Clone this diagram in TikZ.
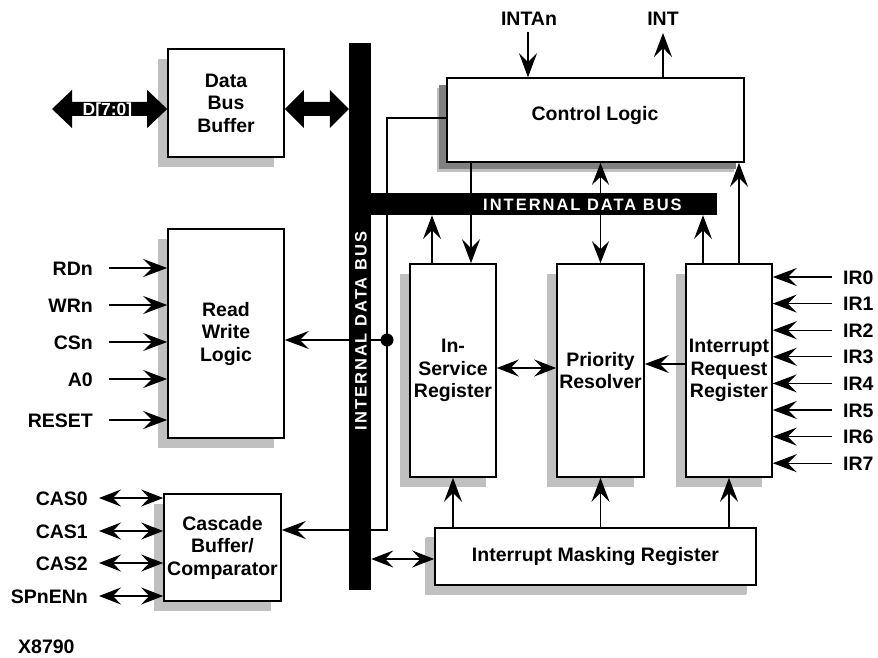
\documentclass[tikz,border=0pt]{standalone}
\usepackage{fontspec}
\setmainfont{Liberation Sans}
\newfontfamily\busfont[LetterSpace=12]{Liberation Sans}
\usetikzlibrary{arrows.meta,shadows,calc}
\definecolor{shlight}{HTML}{C0C0C0}
\definecolor{shdark}{HTML}{808080}
\newcommand\fatarr[3]{% from, to, head length
  \fill let \p1=(#1), \p2=(#2) in (\p1) -- (\x1+#3,\y1+19pt) -- (\x1+#3,\y1+7pt) -- (\x2-#3,\y1+7pt) -- (\x2-#3,\y1+19pt) -- (\x2,\y1) -- (\x2-#3,\y1-19pt) -- (\x2-#3,\y1-7pt) -- (\x1+#3,\y1-7pt) -- (\x1+#3,\y1-19pt) -- cycle;}
\begin{document}
\begin{tikzpicture}[x=1pt,y=-1pt,
  txt/.style={font=\fontsize{19.5}{22.5}\selectfont\bfseries, inner sep=0pt},
  lbl/.style={txt, text height=14pt, text depth=0pt},
  blk/.style={draw, line width=1.6pt, fill=white, inner sep=0pt, align=center, txt,
    general shadow={fill=shlight, shadow xshift=-10pt, shadow yshift=-10pt}},
  wire/.style={line width=1.3pt},
  arr/.style={wire, -{Stealth[length=24pt,width=18pt,inset=9pt]}},
  darr/.style={wire, {Stealth[length=22pt,width=17pt,inset=8pt]}-{Stealth[length=22pt,width=17pt,inset=8pt]}},
  busbar/.style={fill=black, inner sep=0pt},
  buslbl/.style={text=white, font=\busfont\fontsize{16.5}{18}\selectfont\bfseries, inner sep=0pt, text height=12pt, text depth=0pt}
]
\useasboundingbox (0,0) rectangle (878,658);

% blocks
\node[blk, minimum width=116pt, minimum height=108pt] (dbb) at (226,103) {Data\\Bus\\Buffer};
\node[blk, minimum width=297pt, minimum height=84pt,
  general shadow={fill=shdark, shadow xshift=-8pt, shadow yshift=-7pt}] (cl) at (595.5,120) {};
\node[lbl] (cltxt) at (595,114) {Control Logic};
\node[blk, minimum width=116pt, minimum height=209pt] (rw) at (226,333.5) {Read\\Write\\Logic};
\node[blk, minimum width=117pt, minimum height=107pt] (cas) at (222.5,547.5) {Cascade\\Buffer/\\Comparator};
\node[blk, minimum width=86pt, minimum height=213pt] (isr) at (453,370.5) {In-\\Service\\Register};
\node[blk, minimum width=87pt, minimum height=213pt] (pr) at (600.5,370.5) {Priority\\Resolver};
\node[blk, minimum width=86pt, minimum height=213pt] (irr) at (729,370.5) {Interrupt\\Request\\Register};
\node[blk, minimum width=321pt, minimum height=57pt,
  general shadow={fill=shlight, shadow xshift=-9pt, shadow yshift=-9pt}] (imr) at (595.5,556.5) {Interrupt Masking Register};

% external labels
\node[lbl] (intan) at (529,19) {INTAn};
\node[lbl] (int) at (663,19) {INT};
\coordinate (intanE) at (528,32);
\coordinate (intE) at (663,33);
\draw[arr] (intanE) -- (intanE |- cl.north);
\draw[arr] (intE |- cl.north) -- (intE);

\foreach \n/\t/\y in {rd/RDn/268, wr/WRn/305, cs/CSn/342, a/A0/379, rs/RESET/420} {
  \node[lbl, anchor=east] (l\n) at (93,\y) {\t};
  \coordinate (s\n) at (109,\y);
  \draw[arr] (s\n) -- (s\n -| rw.west);
}
\foreach \n/\t/\y in {c0/CAS0/498, c1/CAS1/531, c2/CAS2/563, sp/SPnENn/596} {
  \node[lbl, anchor=east] (l\n) at (88,\y) {\t};
  \coordinate (s\n) at (99,\y);
  \draw[darr] (s\n) -- (s\n -| cas.west);
}
\foreach \i in {0,...,7} {
  \pgfmathsetmacro\yy{277+26.6*\i}
  \node[lbl, anchor=west] (lir\i) at (843,\yy) {IR\i};
  \coordinate (sir\i) at (832,\yy);
  \draw[arr] (sir\i) -- (sir\i -| irr.east);
}
\node[lbl, anchor=west] (xid) at (18,646) {X8790};

% internal wiring
\coordinate (jn) at (387,340);
\coordinate (clw) at ([yshift=2pt]cl.west);
\coordinate (casin) at ([yshift=17.5pt]cas.east);
\draw[arr] (clw) -| (jn) |- (casin);
\draw[arr] (jn) -- (jn -| rw.east);

\coordinate (isrA) at ([xshift=-21pt]isr.north);
\coordinate (isrB) at ([xshift=18pt]isr.north);
\coordinate (irrA) at ([xshift=-26pt]irr.north);
\coordinate (irrB) at ([xshift=10pt]irr.north);
\node[busbar, minimum width=357pt, minimum height=22pt] (hbus) at (538.5,204) {};
\draw[arr] (isrA) -- (isrA |- hbus.south);
\draw[arr] (isrB |- cl.south) -- (isrB);
\draw[darr] (pr.north) -- (pr.north |- cl.south);
\draw[arr] (irrA) -- (irrA |- hbus.south);
\draw[arr] (irrB) -- (irrB |- cl.south);

\draw[darr] ([yshift=2.5pt]isr.east) -- ([yshift=2.5pt]pr.west);
\draw[arr] ([yshift=6.5pt]irr.west) -- ([yshift=6.5pt]pr.east);

\draw[arr] (imr.north -| isr.south) -- (isr.south);
\draw[arr] (imr.north -| pr.south) -- (pr.south);
\draw[arr] (imr.north -| irr.south) -- (irr.south);

% buses on top
\node[busbar, minimum width=357pt, minimum height=22pt] (hbus2) at (538.5,204) {};
\node[busbar, minimum width=22pt, minimum height=547pt] (vbus) at (360,316.5) {};
\node[buslbl] (hlbl) at (582.5,204.5) {INTERNAL DATA BUS};
\node[buslbl, rotate=90] (vlbl) at (360.5,331) {INTERNAL DATA BUS};

\coordinate (imrw) at ([yshift=-2.5pt]imr.west);
\draw[darr] (imrw -| vbus.east) -- (imrw);

\fill (jn) circle[radius=6.5pt];

% fat data arrows
\coordinate (dL) at (52,109);
\fatarr{dL}{dbb.west |- dL}{20pt}
\fatarr{dbb.east |- dL}{vbus.west |- dL}{19pt}
\node[text=white, font=\fontsize{17.5}{18}\selectfont\bfseries, inner sep=0pt, text height=12.5pt, text depth=0pt] (dlbl) at (107.5,109.5) {D[7:0]};
\end{tikzpicture}
\end{document}
